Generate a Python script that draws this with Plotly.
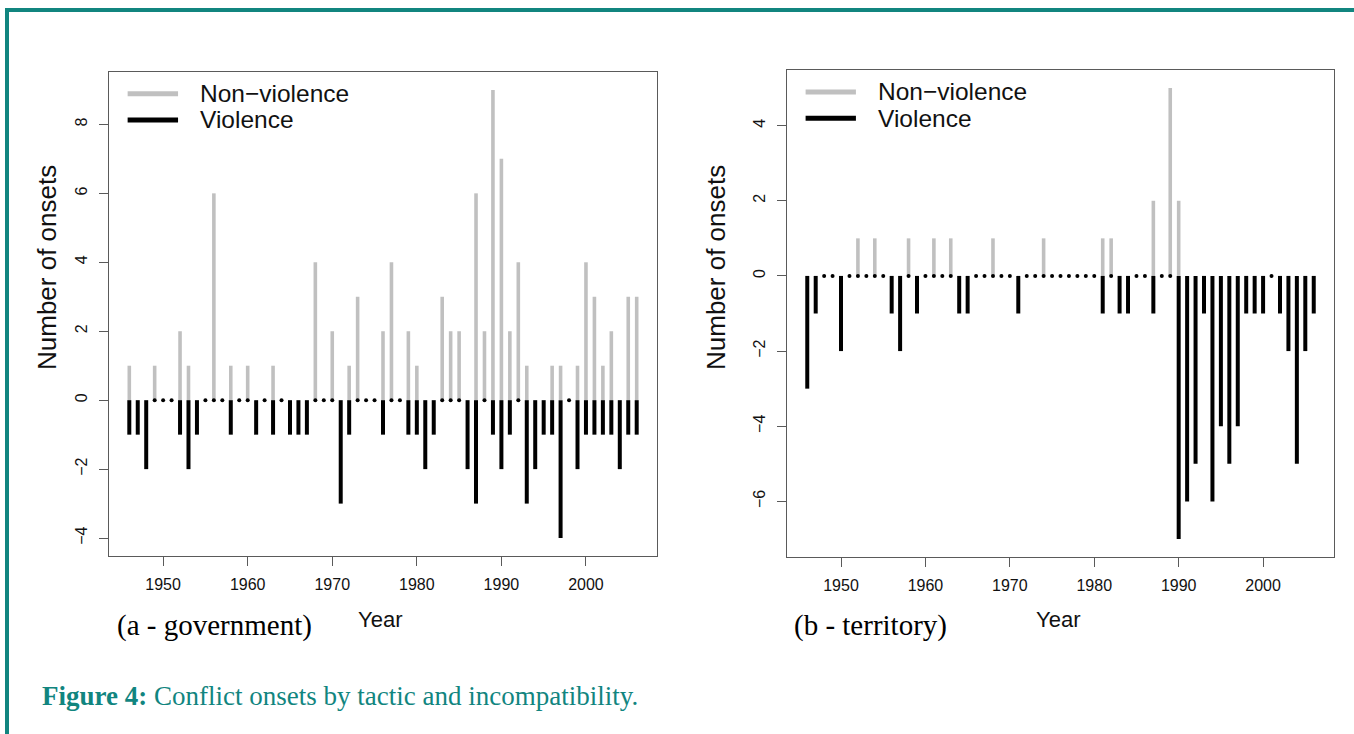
import plotly.graph_objects as go

# ---------------- data ----------------
years = list(range(1946, 2007))

gov_nonviolence = [1, 0, 0, 1, 0, 0, 2, 1, 0, 0,   # 1946-1955
                   6, 0, 1, 0, 1, 0, 0, 1, 0, 0,   # 1956-1965
                   0, 0, 4, 0, 2, 0, 1, 3, 0, 0,   # 1966-1975
                   2, 4, 0, 2, 1, 0, 0, 3, 2, 2,   # 1976-1985
                   0, 6, 2, 9, 7, 2, 4, 1, 0, 0,   # 1986-1995
                   1, 1, 0, 1, 4, 3, 1, 2, 0, 3,   # 1996-2005
                   3]                              # 2006
gov_violence = [1, 1, 2, 0, 0, 0, 1, 2, 1, 0,
                0, 0, 1, 0, 0, 1, 0, 1, 0, 1,
                1, 1, 0, 0, 0, 3, 1, 0, 0, 0,
                1, 0, 0, 1, 1, 2, 1, 0, 0, 0,
                2, 3, 0, 1, 2, 1, 0, 3, 2, 1,
                1, 4, 0, 2, 1, 1, 1, 1, 2, 1,
                1]

ter_nonviolence = [0, 0, 0, 0, 0, 0, 1, 0, 1, 0,
                   0, 0, 1, 0, 0, 1, 0, 1, 0, 0,
                   0, 0, 1, 0, 0, 0, 0, 0, 1, 0,
                   0, 0, 0, 0, 0, 1, 1, 0, 0, 0,
                   0, 2, 0, 5, 2, 0, 0, 0, 0, 0,
                   0, 0, 0, 0, 0, 0, 0, 0, 0, 0,
                   0]
ter_violence = [3, 1, 0, 0, 2, 0, 0, 0, 0, 0,
                1, 2, 0, 1, 0, 0, 0, 0, 1, 1,
                0, 0, 0, 0, 0, 1, 0, 0, 0, 0,
                0, 0, 0, 0, 0, 1, 0, 1, 1, 0,
                0, 1, 0, 0, 7, 6, 5, 1, 6, 4,
                5, 4, 1, 1, 1, 0, 1, 2, 5, 2,
                1]

gov_yticks = [-4, -2, 0, 2, 4, 6, 8]
ter_yticks = [-6, -4, -2, 0, 2, 4]
x_ticks = [1950, 1960, 1970, 1980, 1990, 2000]
series_names = ["Non\u2212violence", "Violence"]
panel_labels = ["(a - government)", "(b - territory)"]

GRAY = "#c0c0c0"
BLACK = "#000000"
TEAL = "#11857f"
W, H = 1354, 734


def stems(xs, vals, sign=1):
    X, Y = [], []
    for x, v in zip(xs, vals):
        if v != 0:
            X += [x, x, None]
            Y += [0, sign * v, None]
    return X, Y


fig = go.Figure()

panels = [
    ("x", "y", gov_nonviolence, gov_violence),
    ("x2", "y2", ter_nonviolence, ter_violence),
]
for xa, ya, nv, v in panels:
    X, Y = stems(years, nv, 1)
    fig.add_trace(go.Scatter(x=X, y=Y, mode="lines", xaxis=xa, yaxis=ya,
                             line=dict(color=GRAY, width=3.6), showlegend=False,
                             hoverinfo="skip"))
    X, Y = stems(years, v, -1)
    fig.add_trace(go.Scatter(x=X, y=Y, mode="lines", xaxis=xa, yaxis=ya,
                             line=dict(color=BLACK, width=4), showlegend=False,
                             hoverinfo="skip"))
    zx = [yr for yr, val in zip(years, v) if val == 0]
    fig.add_trace(go.Scatter(x=zx, y=[0] * len(zx), mode="markers", xaxis=xa, yaxis=ya,
                             marker=dict(color=BLACK, size=4, line=dict(width=0)),
                             showlegend=False, hoverinfo="skip"))

def px_x(p):
    return p / W

def px_y(p):
    return 1 - p / H

axis_common = dict(
    showgrid=False, zeroline=False, showline=True, mirror=True,
    linecolor="#5a5a5a", linewidth=1, ticks="outside", ticklen=9,
    tickcolor="#5a5a5a", tickwidth=1,
    tickfont=dict(family="Liberation Sans", size=16, color="#111111"),
)

fig.update_layout(
    width=W, height=H, margin=dict(l=0, r=0, t=0, b=0),
    plot_bgcolor="white", paper_bgcolor="white",
    xaxis=dict(domain=[px_x(109), px_x(657)], range=[1943.6, 2008.4],
               tickvals=x_ticks, anchor="y", ticklabelstandoff=5, **axis_common),
    yaxis=dict(domain=[px_y(556), px_y(72)], range=[-4.52, 9.52],
               tickvals=gov_yticks, tickangle=-90, anchor="x",
               ticklabelstandoff=6, **axis_common),
    xaxis2=dict(domain=[px_x(787), px_x(1334)], range=[1943.6, 2008.4],
                tickvals=x_ticks, anchor="y2", ticklabelstandoff=5, **axis_common),
    yaxis2=dict(domain=[px_y(557), px_y(70)], range=[-7.48, 5.48],
                tickvals=ter_yticks, tickangle=-90, anchor="x2",
                ticklabelstandoff=6, **axis_common),
)

shapes = []
annotations = []
# teal frame
shapes.append(dict(type="rect", xref="paper", yref="paper",
                   x0=px_x(5), x1=px_x(9), y0=0, y1=px_y(8),
                   fillcolor=TEAL, line=dict(width=0)))
shapes.append(dict(type="rect", xref="paper", yref="paper",
                   x0=px_x(5), x1=1, y0=px_y(12), y1=px_y(8),
                   fillcolor=TEAL, line=dict(width=0)))

for i, (xd, yd) in enumerate([("x domain", "y domain"), ("x2 domain", "y2 domain")]):
    for name, col, yy in [(series_names[0], GRAY, 0.955), (series_names[1], BLACK, 0.901)]:
        shapes.append(dict(type="line", xref=xd, yref=yd, x0=0.034, x1=0.126,
                           y0=yy, y1=yy, line=dict(color=col, width=5)))
        annotations.append(dict(xref=xd, yref=yd, x=0.163, y=yy, text=name,
                                showarrow=False, xanchor="left", yanchor="middle",
                                font=dict(family="Liberation Sans", size=24.5, color="#111")))

# y titles
for xp in [47, 716]:
    annotations.append(dict(xref="paper", yref="paper", x=px_x(xp), y=px_y(268),
                            text="Number of onsets", textangle=-90, showarrow=False,
                            xanchor="center", yanchor="middle",
                            font=dict(family="Liberation Sans", size=26, color="#111")))
# x titles
for xp in [380, 1058]:
    annotations.append(dict(xref="paper", yref="paper", x=px_x(xp), y=px_y(619),
                            text="Year", showarrow=False, xanchor="center", yanchor="middle",
                            font=dict(family="Liberation Sans", size=22, color="#111")))
# panel labels
for xp, lab in zip([115, 792], panel_labels):
    annotations.append(dict(xref="paper", yref="paper", x=px_x(xp), y=px_y(625),
                            text=lab, showarrow=False, xanchor="left", yanchor="middle",
                            font=dict(family="Liberation Serif", size=29, color="#000")))
# caption
annotations.append(dict(xref="paper", yref="paper", x=px_x(40), y=px_y(696),
                        text="<b>Figure 4:</b> Conflict onsets by tactic and incompatibility.",
                        showarrow=False, xanchor="left", yanchor="middle",
                        font=dict(family="Liberation Serif", size=27, color=TEAL)))

fig.update_layout(shapes=shapes, annotations=annotations)
fig.write_html("out.html")
